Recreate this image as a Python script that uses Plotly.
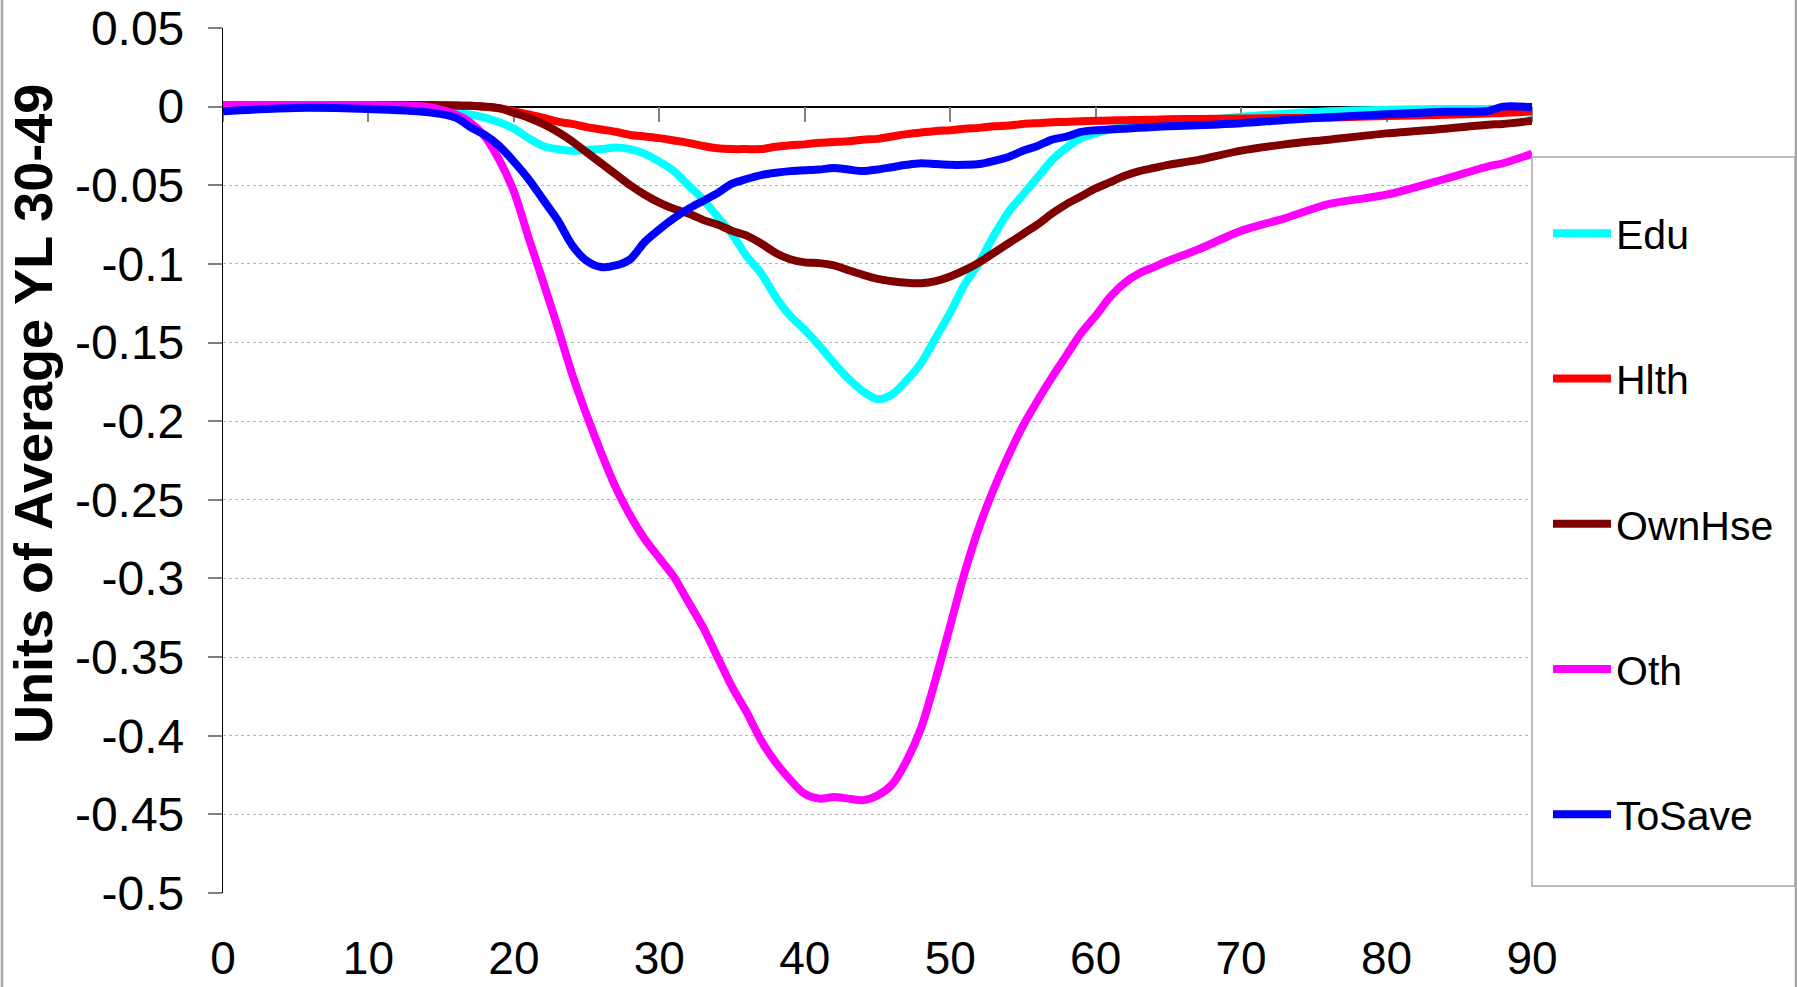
import plotly.graph_objects as go

# ---------------- data ----------------
ages = [0, 5, 10, 14, 16, 17, 18, 19, 20, 21, 22, 23, 24, 25, 26, 27, 28, 29, 30, 31,
        32, 33, 34, 35, 36, 37, 38, 39, 40, 41, 42, 43, 44, 45, 46, 47, 48, 49, 50, 51,
        52, 53, 54, 55, 56, 57, 58, 59, 60, 61, 62, 63, 64, 65, 67, 70, 73, 76, 80, 84,
        87, 88, 90]

edu = [0.0, 0.0, 0.0, -0.001, -0.004, -0.005, -0.007, -0.010, -0.014, -0.020,
       -0.025, -0.027, -0.028, -0.0275, -0.027, -0.026, -0.027, -0.030, -0.035, -0.041,
       -0.050, -0.059, -0.070, -0.081, -0.095, -0.106, -0.121, -0.133, -0.142, -0.152,
       -0.163, -0.173, -0.181, -0.186, -0.183, -0.174, -0.163, -0.147, -0.131, -0.113,
       -0.099, -0.082, -0.067, -0.056, -0.045, -0.034, -0.026, -0.020, -0.017, -0.0145,
       -0.013, -0.012, -0.011, -0.010, -0.009, -0.0064, -0.0045, -0.003, -0.002, -0.0015,
       -0.0015, -0.002, -0.004]

hlth = [0.001, 0.001, 0.001, 0.001, 0.0008, 0.0005, 0.0, -0.001, -0.003, -0.005,
        -0.007, -0.0095, -0.011, -0.013, -0.0145, -0.016, -0.018, -0.019, -0.020, -0.0215,
        -0.023, -0.025, -0.0265, -0.027, -0.027, -0.027, -0.0255, -0.0245, -0.024, -0.023,
        -0.0225, -0.022, -0.021, -0.0205, -0.019, -0.0175, -0.0165, -0.0155, -0.015, -0.014,
        -0.0135, -0.0125, -0.012, -0.011, -0.0105, -0.010, -0.0097, -0.0093, -0.009, -0.0088,
        -0.0086, -0.0085, -0.0083, -0.008, -0.0079, -0.0076, -0.0073, -0.007, -0.006, -0.0052,
        -0.0043, -0.004, -0.003]

ownhse = [0.001, 0.001, 0.001, 0.001, 0.0008, 0.0005, 0.0, -0.001, -0.004, -0.007,
          -0.011, -0.016, -0.022, -0.029, -0.036, -0.043, -0.050, -0.056, -0.061, -0.065,
          -0.068, -0.072, -0.075, -0.079, -0.082, -0.087, -0.093, -0.097, -0.099, -0.0995,
          -0.101, -0.104, -0.107, -0.1095, -0.111, -0.112, -0.1123, -0.111, -0.108, -0.104,
          -0.099, -0.093, -0.087, -0.081, -0.075, -0.068, -0.062, -0.057, -0.052, -0.048,
          -0.044, -0.041, -0.039, -0.037, -0.034, -0.028, -0.024, -0.021, -0.017, -0.014,
          -0.0115, -0.011, -0.009]

oth = [0.001, 0.001, 0.001, 0.0, -0.005, -0.010, -0.019, -0.034, -0.054, -0.083,
       -0.111, -0.140, -0.170, -0.196, -0.220, -0.242, -0.260, -0.275, -0.287, -0.299,
       -0.315, -0.331, -0.350, -0.369, -0.385, -0.403, -0.417, -0.428, -0.437, -0.440,
       -0.439, -0.440, -0.441, -0.438, -0.431, -0.416, -0.395, -0.364, -0.330, -0.296,
       -0.267, -0.243, -0.222, -0.203, -0.187, -0.172, -0.158, -0.144, -0.133, -0.121,
       -0.112, -0.106, -0.102, -0.098, -0.091, -0.079, -0.071, -0.062, -0.056, -0.046,
       -0.038, -0.036, -0.030]

tosave = [-0.003, -0.0008, -0.0015, -0.0035, -0.007, -0.013, -0.018, -0.025, -0.035, -0.046,
          -0.059, -0.072, -0.088, -0.098, -0.102, -0.101, -0.097, -0.086, -0.078, -0.071,
          -0.065, -0.060, -0.055, -0.049, -0.046, -0.0435, -0.042, -0.041, -0.0405, -0.040,
          -0.039, -0.040, -0.041, -0.040, -0.0385, -0.037, -0.036, -0.0365, -0.037, -0.037,
          -0.0365, -0.0345, -0.032, -0.028, -0.025, -0.021, -0.019, -0.016, -0.015, -0.0145,
          -0.014, -0.0135, -0.013, -0.0125, -0.0118, -0.0105, -0.0085, -0.0068, -0.0048, -0.0033,
          -0.0028, 0.0, -0.0003]

series_names = ["Edu", "Hlth", "OwnHse", "Oth", "ToSave"]
series_values = [edu, hlth, ownhse, oth, tosave]
series_colors = ["#00FFFF", "#FF0000", "#800000", "#FF00FF", "#0000FF"]

x_ticks = [0, 10, 20, 30, 40, 50, 60, 70, 80, 90]
x_tick_labels = ["0", "10", "20", "30", "40", "50", "60", "70", "80", "90"]
y_ticks = [0.05, 0, -0.05, -0.1, -0.15, -0.2, -0.25, -0.3, -0.35, -0.4, -0.45, -0.5]
y_tick_labels = ["0.05", "0", "-0.05", "-0.1", "-0.15", "-0.2", "-0.25", "-0.3",
                 "-0.35", "-0.4", "-0.45", "-0.5"]
x_range = [0, 90]
y_range = [-0.5, 0.05]
y_title = "Units of Average YL 30-49"

# ---------------- layout geometry (pixels) ----------------
W, H = 1797, 987
L, R, T, B = 223, 1532, 28, 893
pw, ph = R - L, B - T


def px_x(p):
    return (p - L) / pw


def px_y(p):
    return (B - p) / ph


FONT = "Liberation Sans, Arial, sans-serif"

fig = go.Figure()
for name, vals, col in zip(series_names, series_values, series_colors):
    fig.add_trace(go.Scatter(
        x=ages, y=vals, name=name, mode="lines",
        line=dict(color=col, width=8, shape="spline", smoothing=0.8),
        legendgroup=name,
    ))

# helper trace so that the zero-crossing axis is drawn
fig.add_trace(go.Scatter(x=ages, y=oth, xaxis="x2", yaxis="y", mode="lines",
                         line=dict(width=0), opacity=0, showlegend=False,
                         hoverinfo="skip"))

zero_pos = (0 - y_range[0]) / (y_range[1] - y_range[0])

fig.update_layout(
    width=W, height=H,
    margin=dict(l=L, r=W - R, t=T, b=H - B, pad=0, autoexpand=False),
    paper_bgcolor="white", plot_bgcolor="white",
    font=dict(family=FONT, color="black"),
    xaxis=dict(range=x_range, tickvals=x_ticks, ticktext=x_tick_labels,
               showline=False, ticks="", showgrid=False, zeroline=False,
               automargin=False,
               tickfont=dict(size=46, family=FONT, color="black"),
               ticklabelstandoff=34),
    xaxis2=dict(range=x_range, tickvals=x_ticks, overlaying="x", anchor="free",
                position=zero_pos, side="bottom", showticklabels=False,
                ticks="outside", ticklen=15, tickwidth=1.5, tickcolor="#808080",
                showline=True, linecolor="black", linewidth=1.5, automargin=False,
                showgrid=False, zeroline=False, layer="below traces"),
    yaxis=dict(range=y_range, tickvals=y_ticks, ticktext=y_tick_labels,
               showline=True, linecolor="black", linewidth=1.2,
               ticks="outside", ticklen=14, tickwidth=1.5, tickcolor="#808080",
               showgrid=True, gridcolor="#b4b4b4", griddash="dot", gridwidth=1,
               zeroline=False, automargin=False,
               tickfont=dict(size=48, family=FONT, color="black"),
               ticklabelstandoff=14),
    legend=dict(x=px_x(1548), y=px_y(200), xanchor="left", yanchor="top",
                bgcolor="rgba(0,0,0,0)", borderwidth=0,
                font=dict(size=41, family=FONT, color="black"),
                traceorder="grouped", tracegroupgap=89, itemwidth=58),
    showlegend=True,
)

fig.add_annotation(text=y_title, xref="paper", yref="paper",
                   x=px_x(33), y=px_y(414), xanchor="center", yanchor="middle",
                   textangle=-90, showarrow=False,
                   font=dict(size=54, family=FONT, color="black", weight="bold"))

# legend frame
fig.add_shape(type="rect", xref="paper", yref="paper",
              x0=px_x(1532), x1=px_x(1795), y0=px_y(886), y1=px_y(157),
              line=dict(color="#a6a6a6", width=1.5), fillcolor="rgba(0,0,0,0)",
              layer="above")
# outer chart frame (left and right edges)
for xp in (2, 1796):
    fig.add_shape(type="line", xref="paper", yref="paper",
                  x0=px_x(xp), x1=px_x(xp), y0=px_y(H + 5), y1=px_y(-5),
                  line=dict(color="#a6a6a6", width=2.5))

# the page's default body margin would shift the figure by 8 px
fig.write_html("out.html",
               config={"displayModeBar": False},
               post_script="document.body.style.margin='0';"
                           "document.body.style.overflow='hidden';")
